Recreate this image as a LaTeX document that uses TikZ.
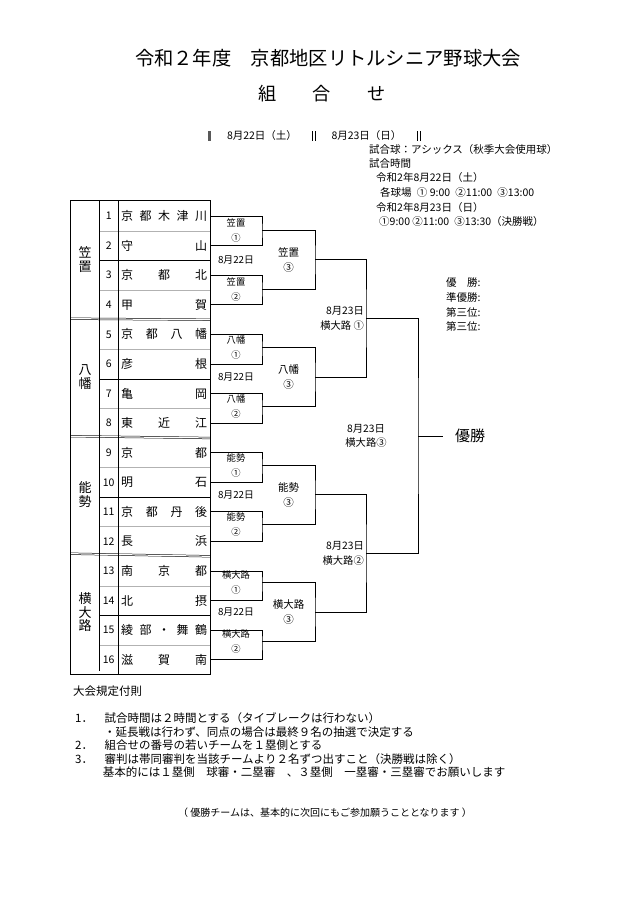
\documentclass[tikz,border=0pt]{standalone}
\usepackage{fontspec}
\setmainfont{Noto Sans CJK JP}
\usepackage{tikz}
\usetikzlibrary{calc,positioning,matrix}
\tikzstyle{num}=[minimum width=19pt, minimum height=29.375pt, inner sep=0pt, font=\fontsize{10.5}{12}\selectfont]
\tikzstyle{team}=[minimum width=92pt, minimum height=29.375pt, inner sep=0pt, font=\fontsize{12}{14}\selectfont]
\tikzstyle{area}=[minimum width=28pt, minimum height=117.5pt, inner sep=0pt, align=center, font=\fontsize{13}{13.7}\selectfont]
\tikzstyle{br}=[line width=0.9pt]
\tikzstyle{rlbl}=[align=center, inner sep=0pt, font=\fontsize{9.3}{15}\selectfont]
\tikzstyle{dlbl}=[inner sep=0pt, font=\fontsize{9.8}{12}\selectfont]
\tikzstyle{qlbl}=[align=center, inner sep=0pt, font=\fontsize{10.5}{14.7}\selectfont]
\tikzstyle{slbl}=[align=right, inner xsep=2pt, inner ysep=0pt, font=\fontsize{10.3}{14.5}\selectfont]
\tikzstyle{info}=[anchor=west, inner sep=0pt, font=\fontsize{10.5}{12}\selectfont]
\tikzstyle{rule}=[anchor=west, inner sep=0pt, font=\fontsize{11.5}{13}\selectfont]
\newcommand{\spread}[1]{\makebox[86pt][s]{#1}}
\newcommand{\pJoin}[3]{\draw[br] (#1) -| (#3) |- (#2)}

\begin{document}
\begin{tikzpicture}[x=1pt, y=-1pt]
\useasboundingbox (0,0) rectangle (640,905);

\node[font=\fontsize{19.3}{22}\selectfont] (title) at (328,58) {令和２年度　京都地区リトルシニア野球大会};
\node[font=\fontsize{18.2}{22}\selectfont] (sub) at (322,93.5) {組　　合　　せ};

\fill[gray!70!black] (208,131) rectangle (211,141);
\draw[line width=0.8pt] (312,131) -- (312,141) (315,131) -- (315,141);
\draw[line width=0.8pt] (417,131) -- (417,141) (420,131) -- (420,141);
\node[font=\fontsize{10.5}{12}\selectfont] (day1) at (262,136) {8月22日（土）};
\node[font=\fontsize{10.5}{12}\selectfont] (day2) at (366.5,136) {8月23日（日）};

\node[info] (i1) at (369,150) {試合球：アシックス（秋季大会使用球）};
\node[info] (i2) at (369,164) {試合時間};
\node[info] (i3) at (376,178) {令和2年8月22日（土）};
\node[info] (i4) at (380,192.7) {各球場\enspace① 9:00\enspace ②11:00\enspace ③13:00};
\node[info] (i5) at (376,207.5) {令和2年8月23日（日）};
\node[info] (i6) at (379,221.7) {①9:00 ②11:00\enspace ③13:30（決勝戦）};

\node[info] (p1) at (446,282.7) {優　勝:};
\node[info] (p2) at (446,297.3) {準優勝:};
\node[info] (p3) at (446,312) {第三位:};
\node[info] (p4) at (446,326.5) {第三位:};

\matrix[anchor=north west, inner sep=0pt, row sep=0pt, column sep=0pt] (tbl) at (99,201)
{
  \node[num] (n1) {1}; & \node[team] (T1) {\spread{京\hfill 都\hfill 木\hfill 津\hfill 川}}; \\
  \node[num] (n2) {2}; & \node[team] (T2) {\spread{守\hfill 山}}; \\
  \node[num] (n3) {3}; & \node[team] (T3) {\spread{京\hfill 都\hfill 北}}; \\
  \node[num] (n4) {4}; & \node[team] (T4) {\spread{甲\hfill 賀}}; \\
  \node[num] (n5) {5}; & \node[team] (T5) {\spread{京\hfill 都\hfill 八\hfill 幡}}; \\
  \node[num] (n6) {6}; & \node[team] (T6) {\spread{彦\hfill 根}}; \\
  \node[num] (n7) {7}; & \node[team] (T7) {\spread{亀\hfill 岡}}; \\
  \node[num] (n8) {8}; & \node[team] (T8) {\spread{東\hfill 近\hfill 江}}; \\
  \node[num] (n9) {9}; & \node[team] (T9) {\spread{京\hfill 都}}; \\
  \node[num] (n10) {10}; & \node[team] (T10) {\spread{明\hfill 石}}; \\
  \node[num] (n11) {11}; & \node[team] (T11) {\spread{京\hfill 都\hfill 丹\hfill 後}}; \\
  \node[num] (n12) {12}; & \node[team] (T12) {\spread{長\hfill 浜}}; \\
  \node[num] (n13) {13}; & \node[team] (T13) {\spread{南\hfill 京\hfill 都}}; \\
  \node[num] (n14) {14}; & \node[team] (T14) {\spread{北\hfill 摂}}; \\
  \node[num] (n15) {15}; & \node[team] (T15) {\spread{綾\hfill 部\hfill ・\hfill 舞\hfill 鶴}}; \\
  \node[num] (n16) {16}; & \node[team] (T16) {\spread{滋\hfill 賀\hfill 南}}; \\
};

\node[area] (g1) at (85,259.75) {笠\\置};
\node[area] (g2) at (85,377.25) {八\\幡};
\node[area] (g3) at (85,494.75) {能\\勢};
\node[area] (g4) at (85,612.25) {横\\大\\路};

\draw[gray!60, line width=0.5pt] (n1.south west) -- (T1.south east) (n3.south west) -- (T3.south east)
  (n5.south west) -- (T5.south east) (n7.south west) -- (T7.south east)
  (n9.south west) -- (T9.south east) (n11.south west) -- (T11.south east)
  (n13.south west) -- (T13.south east) (n15.south west) -- (T15.south east);
\draw[line width=0.7pt] (n2.south west) -- (T2.south east) (n6.south west) -- (T6.south east)
  (n10.south west) -- (T10.south east) (n14.south west) -- (T14.south east);
\draw[double, line width=0.5pt, double distance=1.2pt] (g1.south west) -- (T4.south east)
  (g2.south west) -- (T8.south east) (g3.south west) -- (T12.south east);
\draw[line width=0.9pt] (g1.north east) -- (g4.south east);
\draw[line width=0.9pt] (n1.north east) -- (n16.south east);
\draw[line width=1.1pt] (g1.north west) rectangle (T16.south east);

\coordinate (M1) at (262,230.38);
\coordinate (M2) at (262,289.13);
\coordinate (M3) at (262,347.88);
\coordinate (M4) at (262,406.63);
\coordinate (M5) at (262,465.38);
\coordinate (M6) at (262,524.13);
\coordinate (M7) at (262,582.88);
\coordinate (M8) at (262,641.63);
\coordinate (S1) at (315,259.75);
\coordinate (S2) at (315,377.25);
\coordinate (S3) at (315,494.75);
\coordinate (S4) at (315,612.25);
\coordinate (Q1) at (366,318.5);
\coordinate (Q2) at (366,553.5);
\coordinate (F) at (418,436);

\pJoin{T1.east}{T2.east}{M1};
\pJoin{T3.east}{T4.east}{M2};
\pJoin{T5.east}{T6.east}{M3};
\pJoin{T7.east}{T8.east}{M4};
\pJoin{T9.east}{T10.east}{M5};
\pJoin{T11.east}{T12.east}{M6};
\pJoin{T13.east}{T14.east}{M7};
\pJoin{T15.east}{T16.east}{M8};
\pJoin{M1}{M2}{S1};
\pJoin{M3}{M4}{S2};
\pJoin{M5}{M6}{S3};
\pJoin{M7}{M8}{S4};
\pJoin{S1}{S2}{Q1};
\pJoin{S3}{S4}{Q2};
\pJoin{Q1}{Q2}{F};

\node[rlbl] (L1) at (236,230.38) {笠置\\①};
\node[rlbl] (L2) at (236,289.13) {笠置\\②};
\node[rlbl] (L3) at (236,347.88) {八幡\\①};
\node[rlbl] (L4) at (236,406.63) {八幡\\②};
\node[rlbl] (L5) at (236,465.38) {能勢\\①};
\node[rlbl] (L6) at (236,524.13) {能勢\\②};
\node[rlbl] (L7) at (236,582.88) {横大路\\①};
\node[rlbl] (L8) at (236,641.63) {横大路\\②};
\node[dlbl] (D1) at (236,259.75) {8月22日};
\node[dlbl] (D2) at (236,377.25) {8月22日};
\node[dlbl] (D3) at (236,494.75) {8月22日};
\node[dlbl] (D4) at (236,612.25) {8月22日};
\node[qlbl] (R1) at (288.5,259.75) {笠置\\③};
\node[qlbl] (R2) at (288.5,377.25) {八幡\\③};
\node[qlbl] (R3) at (288.5,494.75) {能勢\\③};
\node[qlbl] (R4) at (288.5,612.25) {横大路\\③};
\node[slbl, anchor=east] (SL1) at (Q1) {8月23日\\横大路 ①};
\node[slbl, anchor=east] (SL2) at (Q2) {8月23日\\横大路②};
\node[slbl, align=center] (FL) at (366,436) {8月23日\\横大路③};

\node[inner xsep=12pt, font=\fontsize{15}{17}\selectfont] (champ) at (470,436) {優勝};
\draw[br] (F) -- (champ);

\node[rule] (r0) at (73,691) {大会規定付則};
\node[rule] (r1) at (75,717.7) {1．　試合時間は２時間とする（タイブレークは行わない）};
\node[rule] (r2) at (104,731.7) {・延長戦は行わず、同点の場合は最終９名の抽選で決定する};
\node[rule] (r3) at (75,745.2) {2．　組合せの番号の若いチームを１塁側とする};
\node[rule] (r4) at (75,758.7) {3．　審判は帯同審判を当該チームより２名ずつ出すこと（決勝戦は除く）};
\node[rule] (r5) at (102.7,772) {基本的には１塁側　球審・二塁審　、３塁側　一塁審・三塁審でお願いします};
\node[font=\fontsize{10}{12}\selectfont] (foot) at (325,813) {（ 優勝チームは、基本的に次回にもご参加願うこととなります ）};

\end{tikzpicture}
\end{document}
